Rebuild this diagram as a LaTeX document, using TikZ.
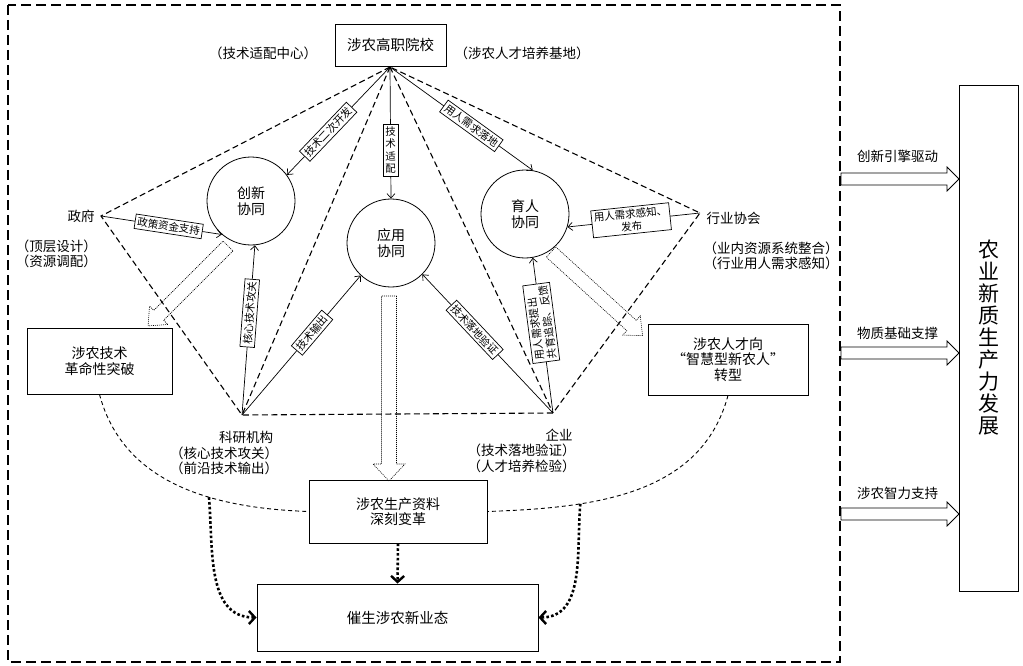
\documentclass[tikz,border=0pt]{standalone}
\usepackage{fontspec}
\setmainfont{Noto Sans CJK SC}
\usetikzlibrary{arrows.meta}
\newcommand{\myfs}[2]{\fontsize{#1}{#2}\selectfont}
\newcommand{\hollowarrow}[7][]{%
  \begin{scope}[shift={#2}, rotate=#3]
    \draw[#1] (0,-#5) -- (#4-#7,-#5) -- (#4-#7,-#6) -- (#4,0) -- (#4-#7,#6) -- (#4-#7,#5) -- (0,#5) -- cycle;
  \end{scope}}
\begin{document}
\begin{tikzpicture}[x=1pt,y=-1pt,
  lbl/.style={draw, fill=white, inner sep=2.4pt, line width=0.7pt, font=\myfs{10.5}{12.5}},
  coop/.style={circle, draw, fill=white, minimum size=88pt, inner sep=0pt, align=center, line width=0.8pt, font=\myfs{14}{16.5}},
  mybox/.style={draw, fill=white, line width=0.9pt, align=center, inner sep=0pt, font=\myfs{14}{15.5}},
  txt/.style={inner sep=0pt, font=\myfs{13.5}{15.5}},
  pent/.style={dash pattern=on 6pt off 3.5pt, line width=1.1pt},
  curvd/.style={dash pattern=on 4pt off 3pt, line width=0.9pt},
  arr/.style={line width=0.7pt, -{Straight Barb[length=4.5pt,width=8pt]}},
  hol/.style={dash pattern=on 1pt off 1pt, line width=0.6pt},
  thickdot/.style={line width=2.6pt, dash pattern=on 2.6pt off 2.2pt, -{Straight Barb[length=6pt,width=13pt,line width=2.4pt]}},
  outerframe/.style={dash pattern=on 10pt off 5pt, line width=1.3pt}
]
\path[use as bounding box, fill=white] (0,0) rectangle (1023,666);

% outer dashed frame
\draw[outerframe] (8,5) rectangle (840,662);

% key points
\coordinate (apex) at (390,67);
\coordinate (gov) at (101,216);
\coordinate (ind) at (700,213);
\coordinate (res) at (242,415);
\coordinate (ent) at (553,413);

% dashed pentagon
\draw[pent] (apex) -- (gov) -- (res) -- (ent) -- (ind) -- cycle;
\draw[pent] (apex) -- (res);
\draw[pent] (apex) -- (ent);

% nodes
\node[mybox, minimum width=111pt, minimum height=42pt, font=\myfs{14.5}{16}] (top) at (390.5,45) {涉农高职院校};
\node[coop] (c1) at (251,201) {创新\\协同};
\node[coop] (c2) at (391,243) {应用\\协同};
\node[coop] (c3) at (525,214) {育人\\协同};

\node[mybox, minimum width=145pt, minimum height=66pt] (b1) at (99.5,361) {涉农技术\\革命性突破};
\node[mybox, minimum width=160pt, minimum height=71pt] (b2) at (728,359.5) {涉农人才向\\“智慧型新农人”\\转型};
\node[mybox, minimum width=178pt, minimum height=63pt] (prod) at (398,511.5) {涉农生产资料\\深刻变革};
\node[mybox, minimum width=281pt, minimum height=67pt, font=\myfs{14.5}{16}] (newf) at (397.5,617.5) {催生涉农新业态};
\node[mybox, minimum width=59pt, minimum height=506pt, font=\myfs{21}{22}] (npf) at (988.5,338) {农\\业\\新\\质\\生\\产\\力\\发\\展};

% plain texts
\node[txt] (t1) at (263,53) {（技术适配中心）};
\node[txt] (t2) at (522,53) {（涉农人才培养基地）};
\node[txt] (govt) at (81,216) {政府};
\node[txt] (govn1) at (56.5,246) {（顶层设计）};
\node[txt] (govn2) at (56.5,261) {（资源调配）};
\node[txt] (indt) at (733.5,218) {行业协会};
\node[txt] (indn1) at (771,248) {（业内资源系统整合）};
\node[txt] (indn2) at (771,263) {（行业用人需求感知）};
\node[txt] (rest) at (246,437) {科研机构};
\node[txt] (resn1) at (224,453) {（核心技术攻关）};
\node[txt] (resn2) at (224,468) {（前沿技术输出）};
\node[txt] (entt) at (559,435) {企业};
\node[txt] (entn1) at (521.5,450) {（技术落地验证）};
\node[txt] (entn2) at (521.5,466) {（人才培养检验）};

% labelled arrows
\draw[arr] (apex) -- node[lbl, sloped, pos=0.6] {技术二次开发} (c1.36);
\draw[arr] (apex) -- node[lbl, pos=0.63, align=center, font=\myfs{10.5}{12.5}] {技\\术\\适\\配} (c2.north);
\draw[arr] (apex) -- node[lbl, sloped, pos=0.57] {用人需求落地} (c3.80);
\draw[arr] (gov) -- node[lbl, sloped, pos=0.56] {政策资金支持} (c1.229);
\draw[arr] (ind) -- node[lbl, sloped, pos=0.52, align=center] {用人需求感知、\\发布} (c3.343);
\draw[arr] (res) -- node[lbl, sloped, pos=0.6] {核心技术攻关} (c1.275);
\draw[arr] (res) -- node[lbl, sloped, pos=0.59] {技术输出} (c2.227);
\draw[arr] (ent) -- node[lbl, sloped, pos=0.6] {技术落地验证} (c2.315);
\draw[arr] (ent) -- node[lbl, pos=0.58, rotate=97.5, align=left] {用人需求提出\\共育追踪、反馈} (c3.280);

% hollow dotted arrows
\hollowarrow[hol]{(228,246)}{225}{113}{7}{13}{15}
\hollowarrow[hol]{(389,296)}{-90}{185}{7.5}{16}{17}
\hollowarrow[hol]{(551,252)}{-42.4}{124}{7}{13}{15}

% lower dashed curves
\draw[curvd] (b1.south) to[out=-75,in=178] coordinate[pos=0.63] (lc) (prod.west);
\draw[curvd] (b2.south) to[out=-105,in=2] coordinate[pos=0.7] (rc) (prod.east);

% thick dotted arrows
\draw[thickdot] (lc) to[out=-85,in=180] (newf.west);
\draw[thickdot] (rc) to[out=-95,in=0] (newf.east);
\draw[thickdot] (prod.south) -- (newf.north);

% right side arrows
\hollowarrow[line width=0.8pt]{(841,179)}{0}{118}{6}{12}{12}
\hollowarrow[line width=0.8pt]{(841,353)}{0}{118}{6}{12}{12}
\hollowarrow[line width=0.8pt]{(841,514)}{0}{118}{6}{12}{12}
\node[txt] (r1) at (897.5,156) {创新引擎驱动};
\node[txt] (r2) at (897.5,333) {物质基础支撑};
\node[txt] (r3) at (897.5,493) {涉农智力支持};
\end{tikzpicture}
\end{document}
